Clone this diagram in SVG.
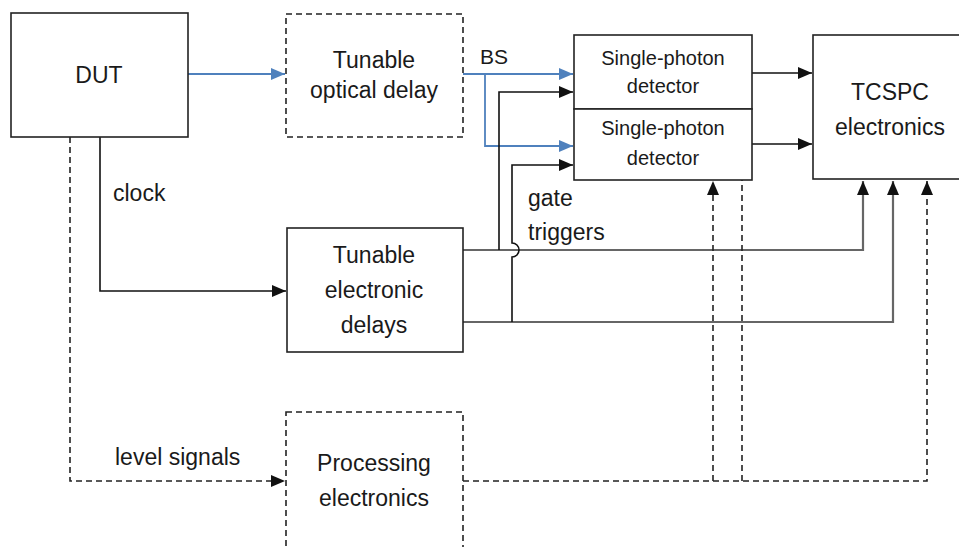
<svg xmlns="http://www.w3.org/2000/svg" width="959" height="547" viewBox="0 0 959 547">
<defs>
<style>
text{font-family:"Liberation Sans",Arial,sans-serif;fill:#1a1a1a}
.t{font-size:23px;text-anchor:middle}
.s{font-size:20px;text-anchor:middle}
.l{font-size:23px}
.box{fill:#fff;stroke:#222;stroke-width:1.6}
.dbox{fill:#fff;stroke:#222;stroke-width:1.6;stroke-dasharray:6,4}
.c{fill:none;stroke:#111;stroke-width:1.6}
.g{fill:none;stroke:#666;stroke-width:2.2}
.b{fill:none;stroke:#4f81bd;stroke-width:1.8}
.d{fill:none;stroke:#222;stroke-width:1.6;stroke-dasharray:6,4}
</style>
<marker id="ak" viewBox="0 0 14 12" refX="14" refY="6" markerUnits="userSpaceOnUse" markerWidth="14" markerHeight="12" orient="auto"><path d="M0,0L14,6L0,12z" fill="#111"/></marker>
<marker id="ab" viewBox="0 0 14 12" refX="14" refY="6" markerUnits="userSpaceOnUse" markerWidth="14" markerHeight="12" orient="auto"><path d="M0,0L14,6L0,12z" fill="#4f81bd"/></marker>
</defs>
<g id="connectors">
<path class="b" d="M188,74H285" marker-end="url(#ab)"/>
<path class="b" d="M463,74H573" marker-end="url(#ab)"/>
<path class="b" d="M485,74V146H573" marker-end="url(#ab)"/>
<path class="c" d="M100,137V291H286" marker-end="url(#ak)"/>
<path class="d" d="M70,137V481H285" marker-end="url(#ak)"/>
<path class="g" d="M463,250H863V181" marker-end="url(#ak)"/>
<path class="g" d="M463,322H893V181" marker-end="url(#ak)"/>
<path class="c" d="M499,250V92H573" marker-end="url(#ak)"/>
<path class="c" d="M512,322V257A7,7 0 0 0 512,243V165H573" marker-end="url(#ak)"/>
<path class="c" d="M752,73H812" marker-end="url(#ak)"/>
<path class="c" d="M752,144H812" marker-end="url(#ak)"/>
<path class="d" d="M463,481H927V181" marker-end="url(#ak)"/>
<path class="d" d="M713,481V181" marker-end="url(#ak)"/>
<path class="d" d="M742,481V110" marker-end="url(#ak)"/>
</g>
<g id="dut"><rect class="box" x="11" y="13" width="177" height="124"/><text class="t" x="99" y="83">DUT</text></g>
<g id="optical-delay"><rect class="dbox" x="286" y="14" width="177" height="123"/><text class="t" x="374" y="68">Tunable</text><text class="t" x="374" y="98">optical delay</text></g>
<g id="bs-label"><text class="l" x="480" y="64" style="font-size:21px">BS</text></g>
<g id="spd1"><rect class="box" x="574" y="35" width="178" height="74"/><text class="s" x="663" y="65">Single-photon</text><text class="s" x="663" y="93">detector</text></g>
<g id="spd2"><rect class="box" x="574" y="109" width="178" height="71"/><text class="s" x="663" y="135">Single-photon</text><text class="s" x="663" y="165">detector</text></g>
<g id="tcspc"><rect class="box" x="813" y="35" width="160" height="144"/><text class="t" x="890" y="100">TCSPC</text><text class="t" x="890" y="135">electronics</text></g>
<g id="electronic-delays"><rect class="box" x="287" y="228" width="176" height="124"/><text class="t" x="374" y="263">Tunable</text><text class="t" x="374" y="298">electronic</text><text class="t" x="374" y="333">delays</text></g>
<g id="processing"><rect class="dbox" x="286" y="412" width="177" height="150"/><text class="t" x="374" y="471">Processing</text><text class="t" x="374" y="506">electronics</text></g>
<g id="labels">
<text class="l" x="113" y="201">clock</text>
<text class="l" x="528" y="206">gate</text>
<text class="l" x="528" y="240">triggers</text>
<text class="l" x="115" y="465">level signals</text>
</g>
</svg>
